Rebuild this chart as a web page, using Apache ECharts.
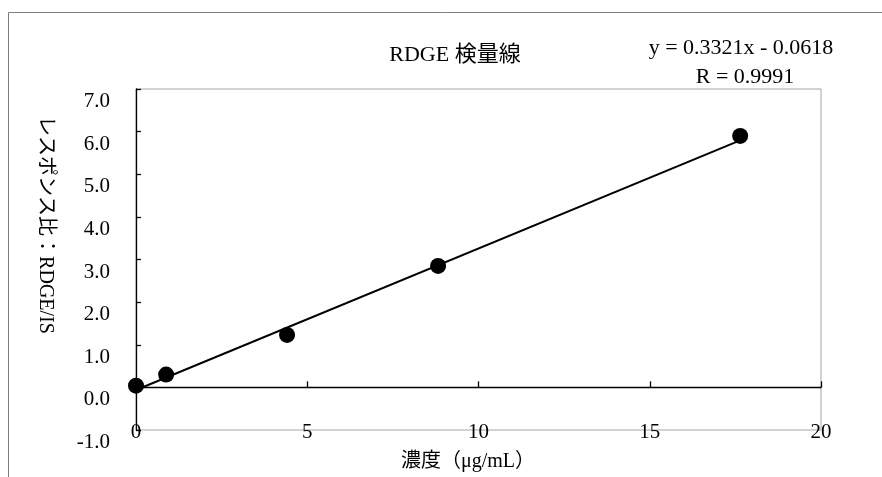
<!DOCTYPE html>
<html>
<head>
<meta charset="utf-8">
<script src="https://cdn.jsdelivr.net/npm/echarts@6/dist/echarts.min.js"></script>
<style>
  html, body { margin: 0; padding: 0; background: #fff; }
  #chart { width: 882px; height: 477px; }
</style>
</head>
<body>
<div id="chart"></div>
<script>
// 濃度 (µg/mL) と レスポンス比
const concX = [0, 0.88, 4.41, 8.82, 17.64];
const ratioY = [0.04, 0.30, 1.23, 2.85, 5.90];
// 回帰式 y = 0.3321x - 0.0618
const slope = 0.3321;
const intercept = -0.0618;
const xTicks = [0, 5, 10, 15, 20];
const yTicks = [-1, 0, 1, 2, 3, 4, 5, 6, 7];

const FONT = "'Liberation Serif', 'Noto Sans CJK JP', serif";

const trendX = [Math.min(...concX), Math.max(...concX)];
const trendData = trendX.map((x) => [x, slope * x + intercept]);

const myChart = echarts.init(document.getElementById("chart"));

myChart.setOption({
  animation: false,
  textStyle: { fontFamily: FONT, color: "#000" },
  grid: {
    left: 136,
    right: 61,
    top: 89,
    bottom: 47,
    show: true,
    borderColor: "#a6a6a6",
    borderWidth: 1,
    backgroundColor: "transparent",
  },
  xAxis: [
    {
      type: "value",
      min: xTicks[0],
      max: xTicks[xTicks.length - 1],
      interval: 5,
      position: "bottom",
      axisLine: { onZero: true, lineStyle: { color: "#000", width: 1.3 } },
      axisTick: { show: true, inside: true, length: 6, lineStyle: { color: "#000", width: 1.3 } },
      axisLabel: { show: false },
      splitLine: { show: false },
    },
    {
      type: "value",
      min: xTicks[0],
      max: xTicks[xTicks.length - 1],
      interval: 5,
      position: "bottom",
      axisLine: { show: false, onZero: false },
      axisTick: { show: false },
      axisLabel: {
        show: true,
        margin: 2,
        verticalAlign: "middle",
        fontSize: 21,
        fontFamily: FONT,
        color: "#000",
      },
      splitLine: { show: false },
    },
  ],
  yAxis: {
    type: "value",
    min: yTicks[0],
    max: yTicks[yTicks.length - 1],
    interval: 1,
    axisLine: { onZero: false, lineStyle: { color: "#000", width: 1.3 } },
    axisTick: { show: true, inside: true, length: 5, lineStyle: { color: "#000", width: 1.3 } },
    axisLabel: {
      margin: 26,
      fontSize: 21,
      fontFamily: FONT,
      color: "#000",
      verticalAlign: "top",
      lineHeight: 25,
      formatter: (v) => v.toFixed(1),
    },
    splitLine: { show: false },
  },
  graphic: [
    {
      type: "rect",
      silent: true,
      shape: { x: 8.5, y: 12.5, width: 900, height: 500 },
      style: { fill: "none", stroke: "#7f7f7f", lineWidth: 1 },
    },
    {
      type: "text",
      x: 455,
      y: 55,
      style: {
        text: "RDGE 検量線",
        font: "22px " + FONT,
        fill: "#000",
        textAlign: "center",
        textVerticalAlign: "middle",
      },
    },
    {
      type: "text",
      x: 741,
      y: 48,
      style: {
        text: "y = 0.3321x - 0.0618",
        font: "22px " + FONT,
        fill: "#000",
        textAlign: "center",
        textVerticalAlign: "middle",
      },
    },
    {
      type: "text",
      x: 745,
      y: 77,
      style: {
        text: "R = 0.9991",
        font: "22px " + FONT,
        fill: "#000",
        textAlign: "center",
        textVerticalAlign: "middle",
      },
    },
    {
      type: "text",
      x: 45,
      y: 225,
      rotation: -Math.PI / 2,
      style: {
        text: "レスポンス比：RDGE/IS",
        font: "20px " + FONT,
        fill: "#000",
        textAlign: "center",
        textVerticalAlign: "middle",
      },
    },
    {
      type: "text",
      x: 468,
      y: 462,
      style: {
        text: "濃度（μg/mL）",
        font: "20px " + FONT,
        fill: "#000",
        textAlign: "center",
        textVerticalAlign: "middle",
      },
    },
  ],
  series: [
    {
      name: "trend",
      type: "line",
      xAxisIndex: 0,
      data: trendData,
      showSymbol: false,
      symbol: "none",
      lineStyle: { color: "#000", width: 2 },
      z: 2,
    },
    {
      name: "RDGE",
      type: "scatter",
      xAxisIndex: 0,
      data: concX.map((x, i) => [x, ratioY[i]]),
      symbol: "circle",
      symbolSize: 16,
      itemStyle: { color: "#000", opacity: 1 },
      z: 3,
    },
  ],
});
</script>
</body>
</html>
